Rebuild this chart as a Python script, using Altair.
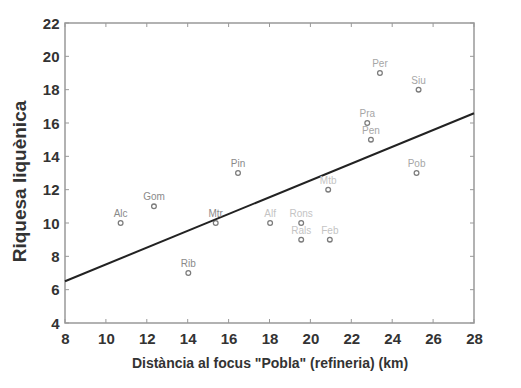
import altair as alt
import pandas as pd

# ---- data ----
sites = ["Alc", "Gom", "Rib", "Mtr", "Pin", "Alf", "Rons", "Rals", "Mtb", "Feb",
         "Per", "Siu", "Pra", "Pen", "Pob"]
distance_km = [10.72, 12.35, 14.03, 15.37, 16.46, 18.03, 19.55, 19.55, 20.87, 20.95,
               23.4, 25.29, 22.78, 22.96, 25.19]
richness = [10, 11, 7, 10, 13, 10, 10, 9, 12, 9, 19, 18, 16, 15, 13]
x_ticks = [8, 10, 12, 14, 16, 18, 20, 22, 24, 26, 28]
y_ticks = [4, 6, 8, 10, 12, 14, 16, 18, 20, 22]

df = pd.DataFrame({"site": sites, "dist": distance_km, "rich": richness})
xt = pd.DataFrame({"v": x_ticks})
yt = pd.DataFrame({"v": y_ticks})

# ---- styling ----
faint_sites = ["Alf", "Rons", "Rals", "Feb", "Mtb"]
mid_sites = ["Per", "Siu", "Pra", "Pen", "Pob"]
FONT = "Liberation Sans"
XDOM = [8, 28]
YDOM = [4, 22]
W, H = 409, 300
TICK = 4

xs = alt.Scale(domain=XDOM, nice=False, zero=False)
ys = alt.Scale(domain=YDOM, nice=False, zero=False)

x_axis = alt.Axis(values=x_ticks, title='Distància al focus "Pobla" (refineria) (km)',
                  labelFont=FONT, labelFontSize=15, labelFontWeight="bold",
                  labelColor="#333", labelPadding=8, ticks=False,
                  titleFont=FONT, titleFontSize=14, titleFontWeight="bold",
                  titleColor="#333", titlePadding=10, grid=False,
                  domain=False, labelFlush=False, labelOverlap=False)
y_axis = alt.Axis(values=y_ticks, title="Riquesa liquènica",
                  labelFont=FONT, labelFontSize=15, labelFontWeight="bold",
                  labelColor="#333", labelPadding=6, ticks=False,
                  titleFont=FONT, titleFontSize=19, titleFontWeight="bold",
                  titleColor="#333", titlePadding=13, titleY=H / 2 + 8, grid=False,
                  domain=False, labelFlush=False, labelOverlap=False)

x_enc = alt.X("dist:Q", scale=xs, axis=x_axis)
y_enc = alt.Y("rich:Q", scale=ys, axis=y_axis)

base = alt.Chart(df)

line = base.transform_regression("dist", "rich", extent=XDOM).mark_line(
    color="#222", strokeWidth=2
).encode(x=x_enc, y=y_enc)

pts = base.mark_point(shape="circle", filled=False, color="#444",
                      strokeWidth=1.3, size=22).encode(x=x_enc, y=y_enc)

label_color = (
    alt.when(alt.FieldOneOfPredicate(field="site", oneOf=faint_sites)).then(alt.value("#c4c4c4"))
    .when(alt.FieldOneOfPredicate(field="site", oneOf=mid_sites)).then(alt.value("#a6a6a6"))
    .otherwise(alt.value("#8a8a8a"))
)

labels = base.mark_text(font=FONT, fontSize=10, dy=-9, align="center").encode(
    x=x_enc, y=y_enc, text="site:N", color=label_color)

rule_style = dict(color="#999", strokeWidth=1)
tx = alt.X("v:Q", scale=xs, axis=x_axis)
ty = alt.Y("v:Q", scale=ys, axis=y_axis)
bottom = alt.Chart(xt).mark_rule(**rule_style).encode(
    x=tx, y=alt.value(H), y2=alt.value(H - TICK))
top = alt.Chart(xt).mark_rule(**rule_style).encode(
    x=tx, y=alt.value(0), y2=alt.value(TICK))
left = alt.Chart(yt).mark_rule(**rule_style).encode(
    y=ty, x=alt.value(0), x2=alt.value(TICK))
right = alt.Chart(yt).mark_rule(**rule_style).encode(
    y=ty, x=alt.value(W), x2=alt.value(W - TICK))

chart = alt.layer(line, pts, labels, bottom, top, left, right).properties(
    width=W, height=H,
    autosize=alt.AutoSizeParams(type="none"),
    padding={"left": 57, "top": 15, "right": 39, "bottom": 57},
    background="white",
).configure_view(stroke="#999", strokeWidth=1.5)

chart.save("out.html", embed_options={"renderer": "svg", "actions": False})
